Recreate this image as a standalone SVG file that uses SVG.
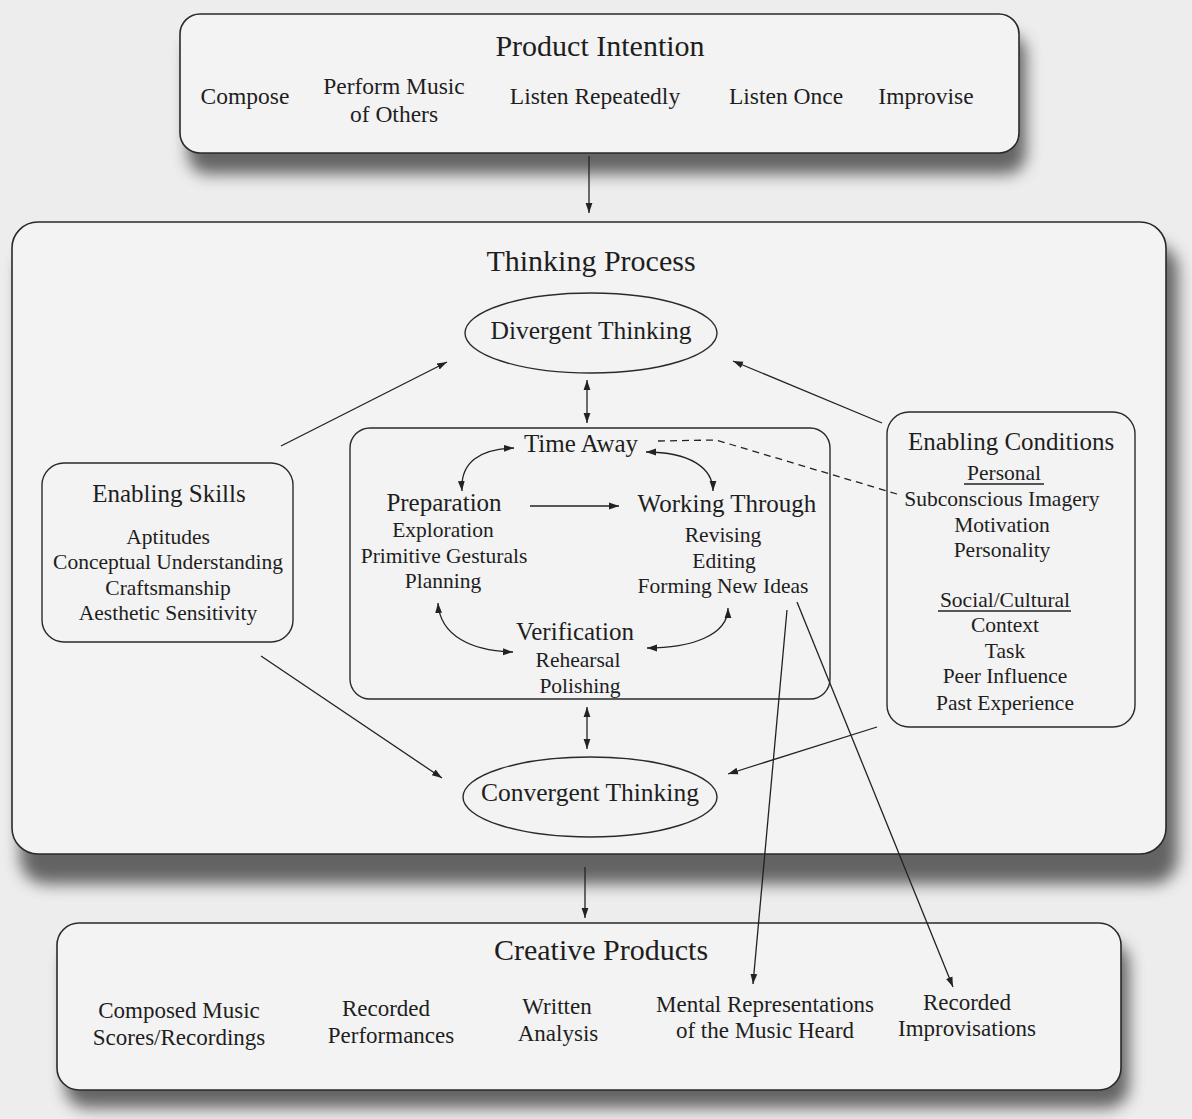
<svg xmlns="http://www.w3.org/2000/svg" width="1192" height="1119" viewBox="0 0 1192 1119">
  <defs>
    <marker id="ah" viewBox="0 0 10 10" refX="10" refY="5" markerWidth="10" markerHeight="10" markerUnits="userSpaceOnUse" orient="auto-start-reverse">
      <path d="M0,1.6 L10,5 L0,8.4 z" fill="#222"/>
    </marker>
    <filter id="shadow" x="-10%" y="-30%" width="125%" height="170%">
      <feGaussianBlur stdDeviation="8"/>
    </filter>
    <style>
      text { font-family: "Liberation Serif", "Times New Roman", serif; fill: #1e1e1e; text-anchor: middle; }
      .title { font-size: 30px; }
      .head { font-size: 25px; }
      .oval { font-size: 25.5px; }
      .item { font-size: 21.5px; }
      .top { font-size: 23.5px; }
      .prod { font-size: 23px; }
      .box { fill: #f3f3f3; stroke: #2a2a2a; stroke-width: 1.6; }
      .inner { fill: none; stroke: #2a2a2a; stroke-width: 1.4; }
      .shade { fill: #555; opacity: 0.9; filter: url(#shadow); }
      .link { fill: none; stroke: #222; stroke-width: 1.3; }
      .one { marker-end: url(#ah); }
      .two { marker-start: url(#ah); marker-end: url(#ah); }
      .rule { stroke: #222; stroke-width: 1.3; }
    </style>
  </defs>

  <!-- paper -->
  <rect x="0" y="0" width="1192" height="1119" fill="#ededed"/>

  <!-- Product Intention -->
  <g id="product-intention">
    <rect class="shade" x="188" y="34" width="838" height="140" rx="20"/>
    <rect class="box" x="180" y="14" width="839" height="139" rx="20"/>
    <text class="title" x="600" y="56">Product Intention</text>
    <text class="top" x="245" y="104">Compose</text>
    <text class="top" x="394" y="94">Perform Music</text>
    <text class="top" x="394" y="122">of Others</text>
    <text class="top" x="595" y="104">Listen Repeatedly</text>
    <text class="top" x="786" y="104">Listen Once</text>
    <text class="top" x="926" y="104">Improvise</text>
  </g>

  <!-- Thinking Process frame -->
  <g id="thinking-process">
    <rect class="shade" x="20" y="244" width="1158" height="640" rx="26"/>
    <rect class="box" x="12" y="222" width="1154" height="632" rx="26"/>
    <text class="title" x="591" y="271">Thinking Process</text>
  </g>

  <g id="divergent-thinking">
    <ellipse class="inner" cx="591" cy="333" rx="126" ry="40"/>
    <text class="oval" x="591" y="339">Divergent Thinking</text>
  </g>

  <g id="convergent-thinking">
    <ellipse class="inner" cx="590" cy="797" rx="127" ry="40"/>
    <text class="oval" x="590" y="801">Convergent Thinking</text>
  </g>

  <g id="enabling-skills">
    <rect class="inner" x="42" y="463" width="251" height="179" rx="22"/>
    <text class="head" x="169" y="502">Enabling Skills</text>
    <text class="item" x="168" y="544">Aptitudes</text>
    <text class="item" x="168" y="569">Conceptual Understanding</text>
    <text class="item" x="168" y="595">Craftsmanship</text>
    <text class="item" x="168" y="620">Aesthetic Sensitivity</text>
  </g>

  <g id="enabling-conditions">
    <rect class="inner" x="887" y="412" width="248" height="315" rx="22"/>
    <text class="head" x="1011" y="450">Enabling Conditions</text>
    <text class="item" x="1004" y="480">Personal</text>
    <line class="rule" x1="964" y1="484" x2="1044" y2="484"/>
    <text class="item" x="1002" y="506">Subconscious Imagery</text>
    <text class="item" x="1002" y="532">Motivation</text>
    <text class="item" x="1002" y="557">Personality</text>
    <text class="item" x="1005" y="607">Social/Cultural</text>
    <line class="rule" x1="938" y1="611" x2="1071" y2="611"/>
    <text class="item" x="1005" y="632">Context</text>
    <text class="item" x="1005" y="658">Task</text>
    <text class="item" x="1005" y="683">Peer Influence</text>
    <text class="item" x="1005" y="710">Past Experience</text>
  </g>

  <!-- creative cycle -->
  <g id="cycle">
    <rect class="inner" x="350" y="428" width="480" height="271" rx="20"/>
  </g>
  <g id="time-away">
    <text class="head" x="581" y="452">Time Away</text>
  </g>
  <g id="preparation">
    <text class="head" x="444" y="511">Preparation</text>
    <text class="item" x="443" y="537">Exploration</text>
    <text class="item" x="444" y="563">Primitive Gesturals</text>
    <text class="item" x="443" y="588">Planning</text>
  </g>
  <g id="working-through">
    <text class="head" x="727" y="512">Working Through</text>
    <text class="item" x="723" y="542">Revising</text>
    <text class="item" x="724" y="568">Editing</text>
    <text class="item" x="723" y="593">Forming New Ideas</text>
  </g>
  <g id="verification">
    <text class="head" x="575" y="640">Verification</text>
    <text class="item" x="578" y="667">Rehearsal</text>
    <text class="item" x="580" y="693">Polishing</text>
  </g>

  <!-- Creative Products -->
  <g id="creative-products">
    <rect class="shade" x="65" y="942" width="1064" height="166" rx="22"/>
    <rect class="box" x="57" y="923" width="1064" height="167" rx="22"/>
    <text class="title" x="601" y="960">Creative Products</text>
    <text class="prod" x="179" y="1018">Composed Music</text>
    <text class="prod" x="179" y="1045">Scores/Recordings</text>
    <text class="prod" x="386" y="1016">Recorded</text>
    <text class="prod" x="391" y="1043">Performances</text>
    <text class="prod" x="557" y="1014">Written</text>
    <text class="prod" x="558" y="1041">Analysis</text>
    <text class="prod" x="765" y="1012">Mental Representations</text>
    <text class="prod" x="765" y="1038">of the Music Heard</text>
    <text class="prod" x="967" y="1010">Recorded</text>
    <text class="prod" x="967" y="1036">Improvisations</text>
  </g>

  <!-- connectors -->
  <g id="connectors">
    <line class="link one" x1="589" y1="156" x2="589" y2="213"/>
    <line class="link two" x1="587" y1="380" x2="587" y2="423"/>
    <line class="link two" x1="587" y1="707" x2="587" y2="749"/>
    <line class="link one" x1="585" y1="867" x2="585" y2="918"/>

    <line class="link one" x1="281" y1="446" x2="447" y2="362"/>
    <line class="link one" x1="261" y1="656" x2="442" y2="778"/>
    <line class="link one" x1="882" y1="423" x2="733" y2="361"/>
    <line class="link one" x1="877" y1="727" x2="728" y2="774"/>

    <line class="link one" x1="530" y1="506" x2="619" y2="506"/>
    <path class="link two" d="M462,491 C460,462 480,449 514,448"/>
    <path class="link two" d="M646,452 C690,452 713,468 713,491"/>
    <path class="link two" d="M438,603 C440,636 472,651 513,652"/>
    <path class="link two" d="M728,608 C728,636 690,648 647,648"/>

    <path class="link" d="M658,441 L716,440 L897,494" stroke-dasharray="7,5" stroke-width="1.7"/>

    <line class="link one" x1="787" y1="610" x2="753" y2="984"/>
    <line class="link one" x1="797" y1="602" x2="953" y2="987"/>
  </g>
</svg>
